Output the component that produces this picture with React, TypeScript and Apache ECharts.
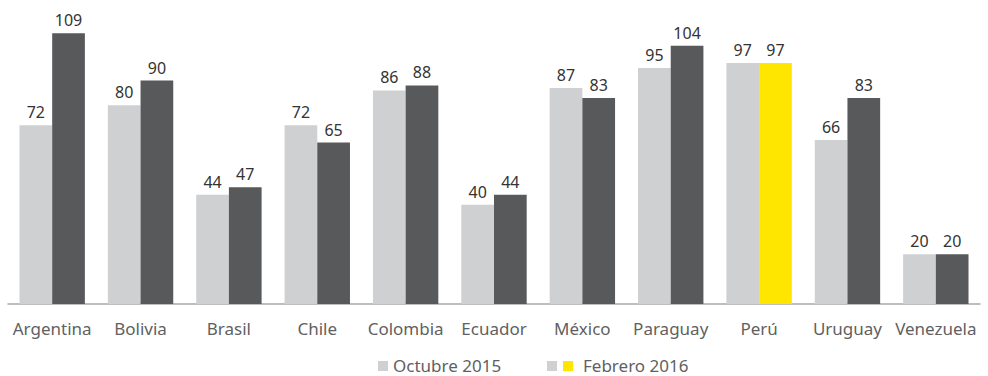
import React, { useEffect, useRef } from "react";
import * as echarts from "echarts";

const categories = ["Argentina", "Bolivia", "Brasil", "Chile", "Colombia", "Ecuador", "México", "Paraguay", "Perú", "Uruguay", "Venezuela"];
const octubre2015 = [72, 80, 44, 72, 86, 40, 87, 95, 97, 66, 20];
const febrero2016 = [109, 90, 47, 65, 88, 44, 83, 104, 97, 83, 20];
const highlightCategory = "Perú";
const legendNames = ["Octubre 2015", "Febrero 2016"];

const LIGHT = "#cfd0d2";
const DARK = "#58595b";
const YELLOW = "#ffe600";
const FONT = "Noto Sans";
const TEXT = "#5f5f62";

export default function App() {
  const ref = useRef<HTMLDivElement>(null);
  useEffect(() => {
    if (!ref.current) return;
    const chart = echarts.init(ref.current, undefined, { renderer: "svg" });
    const labelStyle = { show: true, position: "top" as const, color: "#333", fontSize: 16, fontFamily: FONT, distance: 5 };
    const legendText = { fill: TEXT, fontSize: 17, fontFamily: FONT, verticalAlign: "middle" };
    chart.setOption({
      animation: false,
      grid: { left: 8, right: 8, top: 6, bottom: 72, containLabel: false },
      xAxis: {
        type: "category",
        data: categories,
        axisLine: { lineStyle: { color: "#a7a9ac", width: 1.5 } },
        axisTick: { show: false },
        axisLabel: { color: TEXT, fontSize: 17, fontFamily: FONT, margin: 16, interval: 0 },
      },
      yAxis: { type: "value", min: 0, max: 120, show: false, splitLine: { show: false } },
      series: [
        {
          name: legendNames[0],
          type: "bar",
          data: octubre2015,
          itemStyle: { color: LIGHT },
          barGap: "0%",
          barCategoryGap: "26%",
          label: labelStyle,
        },
        {
          name: legendNames[1],
          type: "bar",
          data: febrero2016.map((v, i) => ({
            value: v,
            itemStyle: { color: categories[i] === highlightCategory ? YELLOW : DARK },
          })),
          itemStyle: { color: DARK },
          label: labelStyle,
        },
      ],
      graphic: [
        { type: "rect", shape: { x: 378, y: 361, width: 10, height: 10 }, style: { fill: LIGHT } },
        { type: "text", x: 393, y: 365, style: { text: legendNames[0], ...legendText } },
        { type: "rect", shape: { x: 547, y: 361, width: 10, height: 10 }, style: { fill: LIGHT } },
        { type: "rect", shape: { x: 563, y: 361, width: 10, height: 10 }, style: { fill: YELLOW } },
        { type: "text", x: 583, y: 365, style: { text: legendNames[1], ...legendText } },
      ],
    });
    return () => chart.dispose();
  }, []);
  return <div ref={ref} style={{ position: "absolute", left: 0, top: 0, width: 988, height: 376 }} />;
}
